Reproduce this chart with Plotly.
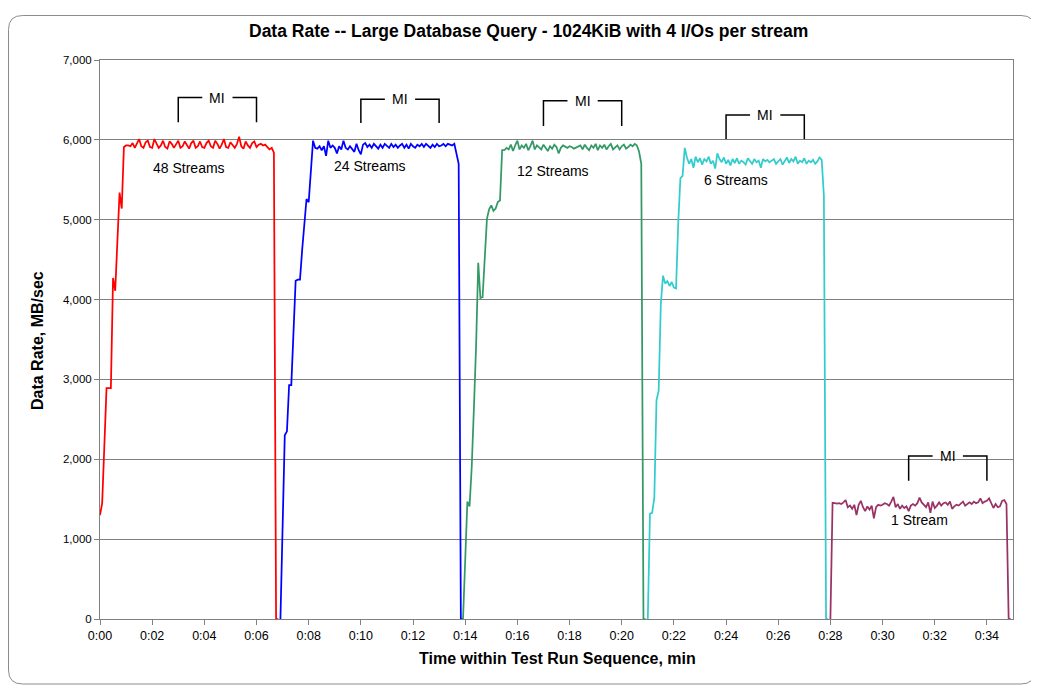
import plotly.graph_objects as go

# ---------------- data (5-second samples, values in MB/sec) ----------------
SAMPLE_SEC = 5

s48_start = 0
s48 = [1300, 1450, 2170, 2890, 2890, 2890, 4270, 4110, 4730, 5340, 5140, 5910,
       5930, 5930, 5920, 5960, 5900, 5950, 6010, 5920, 5900, 5970,
       5990, 5910, 5900, 6010, 5960, 5900, 5930, 5990, 5910, 5890,
       5980, 5950, 5900, 5940, 5990, 5900, 5920, 5980, 5930, 5890,
       5960, 5990, 5900, 5920, 5980, 5910, 5900, 5960, 5990, 5920,
       5900, 5990, 5950, 5890, 5940, 6010, 5910, 5900, 5970, 5930,
       5900, 5950, 6040, 5920, 5890, 5980, 5930, 5900, 5960, 5980,
       5910, 5940, 5950, 5930, 5940, 5910, 5880, 5900,
       5840, 0, 0]

s24_start = 83
s24 = [0, 1200, 2300, 2350, 2930, 2930, 3580, 4235, 4250, 4250, 4620, 4980, 5260, 5220, 5610, 5990,
       5900, 5890, 5920, 5870, 5920, 5800, 5990, 5900, 5930, 5900,
       5830, 5920, 5880, 5990, 5900, 5880, 5920, 5890, 5850, 5950,
       5870, 5820, 5940, 5960, 5910, 5940, 5900, 5950, 5920, 5890,
       5940, 5900, 5950, 5920, 5900, 5950, 5910, 5940, 5900, 5930,
       5950, 5900, 5940, 5890, 5950, 5920, 5900, 5940, 5920, 5950,
       5910, 5950, 5930, 5900, 5940, 5910, 5950, 5920, 5930, 5950,
       5920, 5950, 5940, 5930, 5950,
       5840, 5700, 0, 0]

s12_start = 167
s12 = [0, 750, 1470, 1410, 1900, 2640, 3410, 4460, 4020, 4030, 4450, 5010, 5130, 5180, 5110, 5140, 5220, 5240, 5870,
       5870, 5900, 5880, 5940, 5860, 5930, 5990, 5880, 5930, 5900,
       5950, 5870, 5920, 5990, 5880, 5930, 5900, 5880, 5940, 5900,
       5860, 5920, 5890, 5940, 5910, 5830, 5900, 5930, 5910, 5900,
       5920, 5910, 5890, 5900, 5920, 5930, 5880, 5940, 5900, 5870,
       5930, 5900, 5950, 5870, 5930, 5900, 5940, 5880, 5920, 5950,
       5880, 5900, 5930, 5880, 5920, 5940, 5890, 5910, 5940, 5920,
       5950, 5930,
       5850, 5700, 0, 0]

s6_start = 252
s6 = [0, 1320, 1330, 1520, 2740, 2860, 3950, 4300, 4200, 4230, 4170, 4220, 4150, 4140, 4960, 5520, 5550, 5900,
      5780, 5700, 5760, 5650, 5790, 5720, 5770, 5690, 5760, 5730,
      5790, 5700, 5740, 5640, 5830, 5760, 5720, 5780, 5700, 5750,
      5680, 5760, 5710, 5770, 5700, 5740, 5720, 5690, 5770, 5730,
      5700, 5760, 5720, 5740, 5650, 5760, 5730, 5750, 5720, 5740,
      5760, 5700, 5730, 5760, 5690, 5740, 5780, 5710, 5760, 5730,
      5790, 5700, 5740, 5720, 5770, 5700, 5740, 5720, 5750, 5700,
      5730, 5780,
      5750, 5300, 0, 0]

s1_start = 336
s1 = [0,
      1455, 1450, 1445, 1450, 1440, 1460, 1490, 1400, 1420, 1380,
      1430, 1300, 1430, 1480, 1400, 1350, 1410, 1370, 1420, 1260,
      1400, 1430, 1420, 1430, 1450, 1440, 1420, 1470, 1530, 1400,
      1440, 1380, 1420, 1390, 1410, 1350, 1420, 1440, 1420, 1450,
      1520, 1460, 1430, 1400, 1460, 1330, 1470, 1390, 1420, 1460,
      1420, 1450, 1460, 1430, 1470, 1380, 1410, 1430, 1420, 1450,
      1470, 1420, 1440, 1460, 1440, 1470, 1450, 1460, 1510, 1450,
      1470, 1480, 1510, 1440, 1390, 1440, 1400, 1410, 1480, 1490,
      1440,
      0, 0]

series_names = ["48 Streams", "24 Streams", "12 Streams", "6 Streams", "1 Stream"]
series_starts = [s48_start, s24_start, s12_start, s6_start, s1_start]
series_values = [s48, s24, s12, s6, s1]
series_colors = ["#FF0000", "#0000FF", "#339966", "#33CCCC", "#993366"]

# label positions (minutes, MB/sec)
label_x = [3.42, 10.35, 17.38, 24.4, 31.4]
label_y = [5650, 5670, 5615, 5495, 1240]

# measurement-interval brackets
mi_start = [3, 10, 17, 24, 31]
mi_end = [6, 13, 20, 27, 34]
mi_top = [6530, 6510, 6490, 6310, 2040]
mi_bottom = [6220, 6210, 6175, 6010, 1730]

x_tick_vals = list(range(0, 36, 2))
x_tick_text = ["0:%02d" % v for v in x_tick_vals]
y_tick_vals = list(range(0, 7001, 1000))
y_tick_text = ["{:,}".format(v) for v in y_tick_vals]

FONT = "Arial, Liberation Sans, sans-serif"

# page geometry (the page body adds an 8px offset around the figure)
OFF = 8
FIG_W, FIG_H = 1039 - OFF, 689 - OFF
PL, PR, PT, PB = 100, 1013, 60, 619   # plot area in page pixels

fig = go.Figure()
for name, start, vals, col in zip(series_names, series_starts, series_values, series_colors):
    xs = [(start + i) * SAMPLE_SEC / 60.0 for i in range(len(vals))]
    fig.add_trace(go.Scatter(x=xs, y=vals, mode="lines", name=name,
                             line=dict(color=col, width=1.75), hoverinfo="skip"))

annotations = []
shapes = []
for name, lx, ly in zip(series_names, label_x, label_y):
    annotations.append(dict(x=lx, y=ly, xref="x", yref="y", text=name, showarrow=False,
                            xanchor="center", yanchor="middle",
                            font=dict(family=FONT, size=14, color="#000000")))

GAP = 0.58
for a, b, top, bot in zip(mi_start, mi_end, mi_top, mi_bottom):
    mid = (a + b) / 2.0
    path = "M %f,%f L %f,%f L %f,%f M %f,%f L %f,%f L %f,%f" % (
        a, bot, a, top, mid - GAP, top, mid + GAP, top, b, top, b, bot)
    shapes.append(dict(type="path", xref="x", yref="y", path=path,
                       line=dict(color="#000000", width=1.5)))
    annotations.append(dict(x=mid, y=top, xref="x", yref="y", text="MI", showarrow=False,
                            xanchor="center", yanchor="middle",
                            font=dict(family=FONT, size=14, color="#000000")))


def px(xp):
    return (xp - PL) / (PR - PL)


def py(yp):
    return (PB - yp) / (PB - PT)


# Outer rounded frame
fx0, fx1, fy0, fy1 = px(8.5), px(1035), py(684), py(15.5)
rx, ry = 14 / (PR - PL), 14 / (PB - PT)
frame = ("M %f,%f L %f,%f Q %f,%f %f,%f L %f,%f Q %f,%f %f,%f L %f,%f Q %f,%f %f,%f "
         "L %f,%f Q %f,%f %f,%f Z") % (
    fx0 + rx, fy1, fx1 - rx, fy1, fx1, fy1, fx1, fy1 - ry,
    fx1, fy0 + ry, fx1, fy0, fx1 - rx, fy0,
    fx0 + rx, fy0, fx0, fy0, fx0, fy0 + ry,
    fx0, fy1 - ry, fx0, fy1, fx0 + rx, fy1)
shapes.append(dict(type="path", xref="paper", yref="paper", path=frame,
                   line=dict(color="#8C8C8C", width=1), layer="below"))

annotations.append(dict(x=px(528), y=py(31), xref="paper", yref="paper",
                        xanchor="center", yanchor="middle",
                        text="<b>Data Rate -- Large Database Query - 1024KiB with 4 I/Os per stream</b>",
                        showarrow=False, font=dict(family=FONT, size=17.5, color="#000000")))
annotations.append(dict(x=px(557), y=py(658), xref="paper", yref="paper",
                        xanchor="center", yanchor="middle",
                        text="<b>Time within Test Run Sequence, min</b>",
                        showarrow=False, font=dict(family=FONT, size=16, color="#000000")))
annotations.append(dict(x=px(37), y=py(340), xref="paper", yref="paper", textangle=-90,
                        xanchor="center", yanchor="middle",
                        text="<b>Data Rate, MB/sec</b>",
                        showarrow=False, font=dict(family=FONT, size=16, color="#000000")))

fig.update_layout(
    width=FIG_W, height=FIG_H,
    margin=dict(l=PL - OFF, r=FIG_W - (PR - OFF), t=PT - OFF, b=FIG_H - (PB - OFF)),
    paper_bgcolor="#FFFFFF", plot_bgcolor="#FFFFFF",
    showlegend=False,
    annotations=annotations,
    shapes=shapes,
    font=dict(family=FONT, size=12, color="#000000"),
)
fig.update_xaxes(range=[0, 35], tickvals=x_tick_vals, ticktext=x_tick_text,
                 showgrid=False, zeroline=False, showline=True, linecolor="#808080", linewidth=1,
                 mirror=True, ticks="outside", ticklen=5, tickcolor="#808080",
                 tickfont=dict(family=FONT, size=12.5, color="#000000"))
fig.update_yaxes(range=[0, 7000], tickvals=y_tick_vals, ticktext=y_tick_text,
                 showgrid=True, gridcolor="#808080", gridwidth=1, zeroline=False,
                 showline=True, linecolor="#808080", linewidth=1, mirror=True,
                 ticks="outside", ticklen=5, tickcolor="#808080",
                 tickfont=dict(family=FONT, size=11.5, color="#000000"))

fig.write_html("out.html")
